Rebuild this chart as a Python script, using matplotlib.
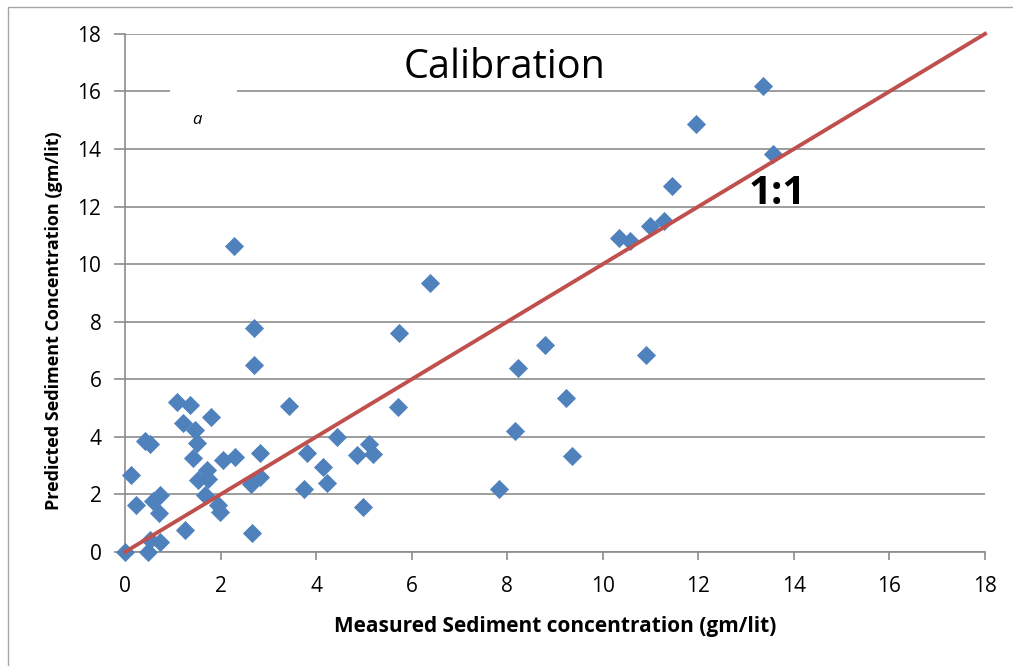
import numpy as np
import matplotlib.pyplot as plt
from matplotlib.patches import Rectangle

# Measured vs predicted sediment concentration (gm/lit)
measured = [0.0, 0.49, 0.52, 0.73, 1.26, 2.65, 0.24, 0.58, 0.72, 0.73,
            0.12, 1.67, 1.95, 1.99, 1.53, 1.74, 1.71, 0.42, 0.52, 1.50,
            1.43, 1.22, 1.47, 1.81, 1.09, 1.37, 2.06, 2.30, 2.83, 2.63,
            2.83, 2.70, 2.70, 2.29, 3.43, 3.80, 3.75, 4.14, 4.23, 4.43,
            4.85, 5.11, 5.20, 4.99, 5.71, 5.73, 6.38, 7.83, 8.16, 8.23,
            8.79, 9.23, 9.36, 10.90, 10.34, 10.57, 10.99, 11.28, 11.45, 11.95,
            13.56, 13.35]
predicted = [0.0, 0.01, 0.42, 0.36, 0.76, 0.65, 1.63, 1.78, 1.34, 1.98,
             2.68, 1.98, 1.63, 1.40, 2.50, 2.53, 2.85, 3.87, 3.75, 3.78,
             3.26, 4.47, 4.24, 4.70, 5.22, 5.11, 3.20, 3.31, 2.60, 2.35,
             3.43, 6.50, 7.79, 10.63, 5.08, 3.45, 2.19, 2.96, 2.41, 4.01,
             3.36, 3.75, 3.40, 1.56, 5.03, 7.60, 9.34, 2.19, 4.20, 6.39,
             7.19, 5.35, 3.34, 6.85, 10.91, 10.81, 11.33, 11.50, 12.72, 14.87,
             13.83, 16.19]

one_to_one = [0, 18]
ticks = np.arange(0, 19, 2)

plt.rcParams['font.family'] = ['Open Sans', 'DejaVu Sans']

fig = plt.figure(figsize=(10.13, 6.66), dpi=100)
ax = fig.add_axes([0.1234, 0.1712, 0.849, 0.778])

# outer chart border
fig.patches.append(Rectangle((0.008, -0.01), 1.2, 1.0, transform=fig.transFigure,
                             fill=False, edgecolor='#a6a6a6', linewidth=1))

ax.set_xlim(0, 18)
ax.set_ylim(0, 18)
ax.set_xticks(ticks)
ax.set_yticks(ticks)
ax.grid(axis='y', color='#8c8c8c', linewidth=1.2)
ax.set_axisbelow(True)

for side in ['top', 'right']:
    ax.spines[side].set_visible(False)
for side in ['left', 'bottom']:
    ax.spines[side].set_color('#8c8c8c')
    ax.spines[side].set_linewidth(1.2)
ax.tick_params(colors='#8c8c8c', labelcolor='black', labelsize=15, width=1.2)
ax.tick_params(axis='x', length=6, pad=11)
ax.tick_params(axis='y', length=8, pad=9)

ax.scatter(measured, predicted, marker='D', s=95, color='#4F81BD', zorder=3,
           linewidths=0, clip_on=False)
ax.plot(one_to_one, one_to_one, color='#C0504D', linewidth=2.8, zorder=4, clip_on=False)

ax.set_xlabel('Measured Sediment concentration (gm/lit)', fontsize=15, fontweight='bold', labelpad=14)
ax.set_ylabel('Predicted Sediment Concentration (gm/lit)', fontsize=13, fontweight='bold')
ax.yaxis.set_label_coords(-0.072, 0.446)

ax.text(7.95, 16.82, 'Calibration', fontsize=28.5, ha='center', va='center')
ax.text(13.65, 12.45, '1:1', fontsize=29, fontweight='bold', ha='center', va='center')

# small stray label with white gap in the 16 gridline
ax.add_patch(Rectangle((0.95, 15.9), 1.4, 0.2, facecolor='white', edgecolor='none', zorder=1))
ax.text(1.5, 15.0, 'a', fontsize=12, style='italic', ha='center', va='center')

fig.savefig('out.png', dpi=100)
